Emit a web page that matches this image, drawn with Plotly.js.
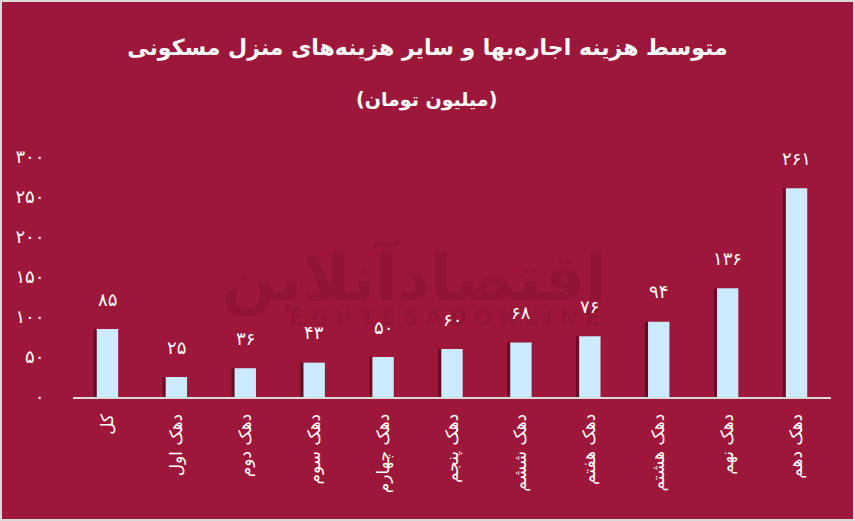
<!DOCTYPE html>
<html>
<head>
<meta charset="utf-8">
<script src="https://cdn.plot.ly/plotly-3.0.1.min.js"></script>
<style>
html,body{margin:0;padding:0;background:#d9d9d9;}
#wrap{width:851px;height:517px;border:2px solid #d9d9d9;}
#chart{width:851px;height:517px;}
</style>
</head>
<body>
<div id="wrap"><div id="chart"></div></div>
<script>
const categories = ['کل','دهک اول','دهک دوم','دهک سوم','دهک چهارم','دهک پنجم','دهک ششم','دهک هفتم','دهک هشتم','دهک نهم','دهک دهم'];
const values = [85, 25, 36, 43, 50, 60, 68, 76, 94, 136, 261];
const yTickVals = [0, 50, 100, 150, 200, 250, 300];
const yTickText = ['۰','۵۰','۱۰۰','۱۵۰','۲۰۰','۲۵۰','۳۰۰'];
const titleText = 'متوسط هزینه اجاره‌بها و سایر هزینه‌های منزل مسکونی';
const subtitleText = '(میلیون تومان)';

const faDigits = '۰۱۲۳۴۵۶۷۸۹';
const toFa = n => String(n).replace(/[0-9]/g, d => faDigits[+d]);

const BG = '#9d173b';
const FONT = 'DejaVu Sans';

const shadow = {
  type: 'bar', x: categories, y: values,
  width: 0.31, offset: -0.2,
  marker: {color: 'rgba(55,0,18,0.5)'},
  hoverinfo: 'skip', showlegend: false
};
const bars = {
  type: 'bar', x: categories, y: values,
  width: 0.31, offset: -0.155,
  marker: {color: '#cdebff'},
  hoverinfo: 'skip', showlegend: false
};

// watermark (drawn first so value labels sit on top)
const annotations = [
  {
    x: 0.45, y: 0.5, xref: 'paper', yref: 'paper',
    xanchor: 'center', yanchor: 'middle',
    text: '<b>اقتصادآنلاین</b>', showarrow: false,
    font: {family: FONT, size: 64, color: 'rgba(70,0,20,0.12)'}
  },
  {
    x: 0.49, y: 0.33, xref: 'paper', yref: 'paper',
    xanchor: 'center', yanchor: 'middle',
    text: '<b>E G H T E S A D O N L I N E</b>', showarrow: false,
    font: {family: FONT, size: 21, color: 'rgba(70,0,20,0.12)'}
  }
];
values.forEach((v, i) => annotations.push({
  x: categories[i], y: v, xref: 'x', yref: 'y',
  text: toFa(v), showarrow: false, yshift: 30,
  font: {family: FONT, size: 18, color: '#ffffff'}
}));
annotations.push({
  x: 0.467, y: 1.2375, xref: 'paper', yref: 'paper',
  xanchor: 'center', yanchor: 'middle',
  text: '<b>' + subtitleText + '</b>', showarrow: false,
  font: {family: FONT, size: 19, color: '#ffffff'}
});

const layout = {
  width: 851, height: 517,
  paper_bgcolor: BG, plot_bgcolor: BG,
  margin: {l: 71, r: 22, t: 155, b: 122},
  barmode: 'overlay',
  title: {
    text: '<b>' + titleText + '</b>',
    x: 0.5, xref: 'container', xanchor: 'center',
    y: 1 - 45/517, yanchor: 'middle',
    font: {family: FONT, size: 22, color: '#ffffff'}
  },
  xaxis: {
    type: 'category',
    tickangle: -90,
    tickfont: {family: FONT, size: 17, color: '#ffffff'},
    showgrid: false, zeroline: false,
    showline: true, linecolor: '#d9d9d9', linewidth: 2,
    ticks: 'outside', ticklen: 8, tickcolor: 'rgba(0,0,0,0)',
    fixedrange: true
  },
  yaxis: {
    range: [0, 300],
    tickvals: yTickVals, ticktext: yTickText,
    tickfont: {family: FONT, size: 18, color: '#ffffff'},
    showgrid: false, zeroline: false, showline: false,
    ticks: 'outside', ticklen: 24, tickcolor: 'rgba(0,0,0,0)',
    fixedrange: true
  },
  annotations: annotations,
  showlegend: false
};

Plotly.newPlot('chart', [shadow, bars], layout, {displayModeBar: false, staticPlot: true});
</script>
</body>
</html>
